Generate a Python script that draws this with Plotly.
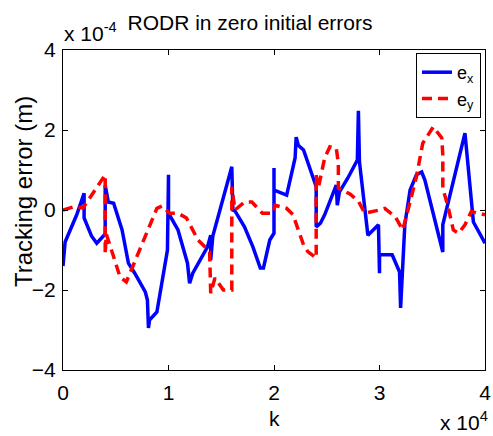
import plotly.graph_objects as go

# k in units of 1e4, errors in units of 1e-4 m
k_ex = [0.0, 0.02, 0.13, 0.2, 0.2, 0.27, 0.32, 0.4, 0.4, 0.43, 0.48, 0.56, 0.62, 0.68, 0.78, 0.8,
        0.81, 0.82, 0.89, 0.95, 0.99, 1.0, 1.0, 1.09, 1.18, 1.2, 1.23, 1.37, 1.4, 1.4, 1.42, 1.6,
        1.61, 1.63, 1.72, 1.8, 1.87, 1.9, 1.96, 2.0, 2.0, 2.0, 2.12, 2.2, 2.21, 2.23, 2.28, 2.4,
        2.4, 2.44, 2.48, 2.59, 2.6, 2.62, 2.7, 2.79, 2.8, 2.81, 2.89, 2.99, 3.0, 3.0, 3.12, 3.19,
        3.2, 3.24, 3.29, 3.35, 3.4, 3.43, 3.6, 3.6, 3.81, 3.89, 4.0]
ex = [-1.4, -0.8, -0.12, 0.42, -0.2, -0.65, -0.83, -0.6, 0.62, 0.2, 0.17, -0.5, -1.33, -1.58, -2.05, -2.25,
      -2.95, -2.75, -2.55, -1.58, -1.0, 0.88, -0.08, -0.5, -1.33, -1.83, -1.58, -0.92, -0.63, -1.25, -0.65, 1.08,
      0.0, -0.02, -0.42, -0.92, -1.45, -1.45, -0.75, -0.58, 1.05, 0.5, 0.37, 1.3, 1.82, 1.62, 1.5, 0.58,
      -0.42, -0.33, -0.12, 0.62, 0.12, 0.45, 0.8, 1.25, 2.48, 1.2, -0.63, -0.37, -1.58, -1.12, -1.12, -1.55,
      -2.45, -0.37, 0.5, 0.88, 0.95, 0.75, -1.05, -0.37, 1.92, -0.3, -0.83]

k_ey = [0.0, 0.1, 0.19, 0.38, 0.4, 0.4, 0.41, 0.48, 0.54, 0.6, 0.7, 0.8, 0.89, 0.94, 1.0, 1.01,
        1.09, 1.17, 1.28, 1.39, 1.4, 1.44, 1.52, 1.6, 1.6, 1.63, 1.72, 1.79, 1.89, 1.99, 2.01, 2.12,
        2.18, 2.28, 2.32, 2.4, 2.4, 2.42, 2.48, 2.53, 2.59, 2.61, 2.61, 2.72, 2.8, 2.86, 3.0, 3.05,
        3.15, 3.22, 3.27, 3.35, 3.41, 3.51, 3.59, 3.6, 3.6, 3.65, 3.7, 3.75, 3.81, 3.87, 4.0]
ey = [0.0, 0.08, 0.05, 0.83, 0.88, -1.1, -0.6, -1.17, -1.67, -1.8, -1.17, -0.5, 0.04, 0.1, -0.04, -0.08,
      -0.08, -0.2, -0.75, -1.04, -2.08, -1.7, -2.0, -2.0, 0.58, 0.0, 0.2, 0.2, -0.08, -0.08, 0.12, 0.04,
      -0.12, -0.87, -1.04, -1.2, 0.88, 0.55, 1.3, 1.58, 1.55, 1.17, 0.55, 0.4, 0.22, -0.08, 0.0, 0.04,
      -0.17, -0.5, 0.0, 0.83, 1.67, 2.08, 1.8, 1.38, 0.54, 0.08, -0.5, -0.58, -0.37, -0.04, -0.12]

x_ticks = [0, 1, 2, 3, 4]
y_ticks = [-4, -2, 0, 2, 4]

FONT = "Liberation Sans, Arial, sans-serif"
W, H = 493, 436
L, R, T, B = 63, 8, 50, 66
PW, PH = W - L - R, H - T - B


def px(x):
    return (x - L) / PW


def py(y):
    return (H - B - y) / PH


fig = go.Figure()
fig.add_trace(go.Scatter(x=k_ex, y=ex, mode="lines", name="e<sub>x</sub>",
                         line=dict(color="#0000FF", width=3.5)))
fig.add_trace(go.Scatter(x=k_ey, y=ey, mode="lines", name="e<sub>y</sub>",
                         line=dict(color="#FF0000", width=3.5, dash="10px,6px")))

axis_common = dict(showgrid=False, zeroline=False, showline=True, linecolor="black", linewidth=1,
                   mirror="allticks", ticks="inside", ticklen=5, tickcolor="black", tickwidth=1,
                   automargin=False,
                   tickfont=dict(family=FONT, size=21, color="black"))

fig.update_layout(
    width=W, height=H,
    margin=dict(l=L, r=R, t=T, b=B, autoexpand=False),
    paper_bgcolor="white", plot_bgcolor="white",
    xaxis=dict(range=[0, 4], tickvals=x_ticks, ticklabelstandoff=4, **axis_common),
    yaxis=dict(range=[-4, 4], tickvals=y_ticks, ticklabelstandoff=2, **axis_common),
    title=dict(text="RODR in zero initial errors", x=px(277), xanchor="center",
               y=1 - 23 / H, yanchor="middle", automargin=False,
               font=dict(family=FONT, size=21, color="black")),
    legend=dict(x=px(481), xanchor="right", y=py(53), yanchor="top",
                bgcolor="white", bordercolor="black", borderwidth=1,
                font=dict(family=FONT, size=18, color="black"),
                tracegroupgap=0, itemwidth=30),
    showlegend=True,
)

annos = [
    dict(text="k", x=px(274), y=py(418), xanchor="center", yanchor="middle", size=21),
    dict(text="Tracking error (m)", x=px(23), y=py(192), xanchor="center", yanchor="middle",
         size=24, angle=-90),
    dict(text="x 10<sup>4</sup>", x=px(490), y=py(436), xanchor="right", yanchor="bottom", size=21),
    dict(text="x 10<sup>-4</sup>", x=px(62), y=py(47), xanchor="left", yanchor="bottom", size=21),
]
for a in annos:
    fig.add_annotation(text=a["text"], x=a["x"], y=a["y"], xref="paper", yref="paper",
                       xanchor=a["xanchor"], yanchor=a["yanchor"], showarrow=False,
                       textangle=a.get("angle", 0),
                       font=dict(family=FONT, size=a["size"], color="black"))

fig.write_html("out.html", config={"displayModeBar": False},
               post_script="document.body.style.margin='0';document.body.style.overflow='hidden';")
